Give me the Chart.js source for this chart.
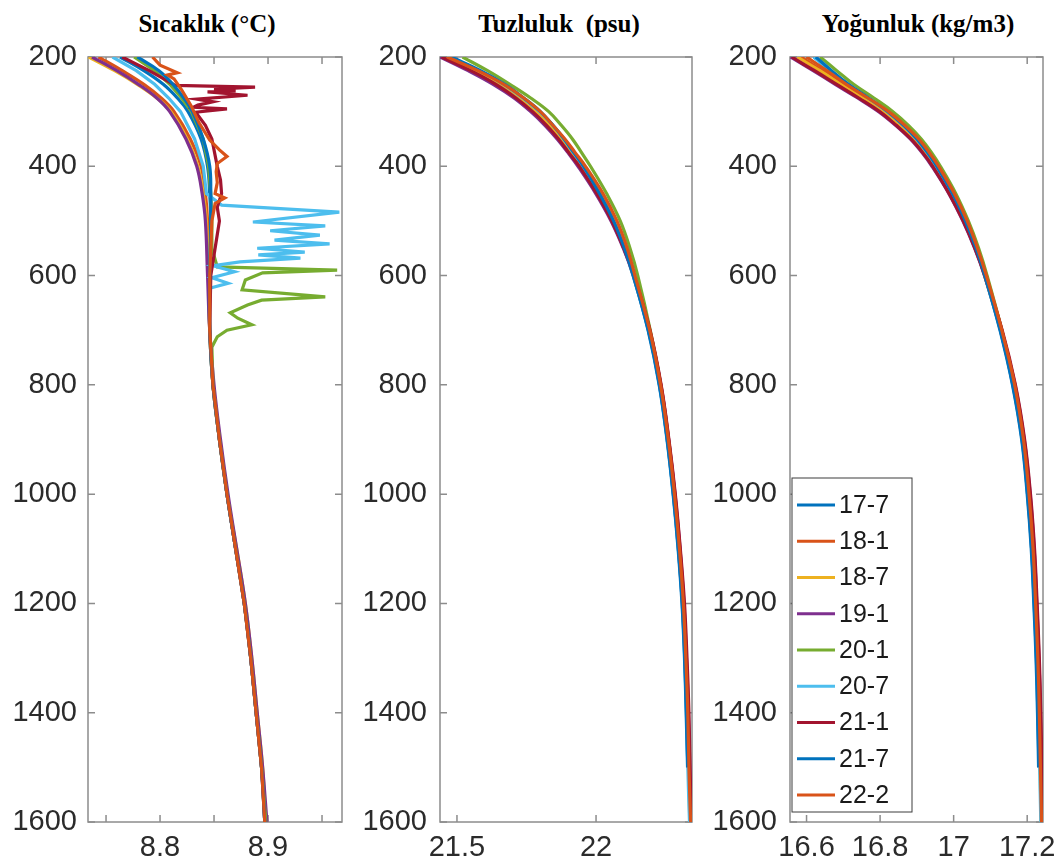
<!DOCTYPE html>
<html>
<head>
<meta charset="utf-8">
<script src="https://cdn.jsdelivr.net/npm/chart.js@4.4.0/dist/chart.umd.min.js"></script>
<style>
  body { margin: 0; background: #fff; width: 1061px; height: 866px; position: relative; overflow: hidden; }
  canvas { position: absolute; top: 0; }
  .title { position: absolute; top: 11px; width: 220px; font-family: "Liberation Serif", "Times New Roman", serif;
           font-weight: bold; font-size: 25px; line-height: 25px; color: #000; text-align: center; white-space: pre; }
</style>
</head>
<body>
<div class="title" style="left:97px">Sıcaklık (°C)</div>
<div class="title" style="left:449px">Tuzluluk  (psu)</div>
<div class="title" style="left:808px">Yoğunluk (kg/m3)</div>
<canvas id="c1" width="360" height="866" style="left:0"></canvas>
<canvas id="c2" width="345" height="866" style="left:360px"></canvas>
<canvas id="c3" width="356" height="866" style="left:705px"></canvas>
<script>
// seri adlari ve renkleri
const seriesNames = ['17-7', '18-1', '18-7', '19-1', '20-1', '20-7', '21-1', '21-7', '22-2'];
const seriesColors = ['#0072BD', '#D95319', '#EDB120', '#7E2F8E', '#77AC30', '#4DBEEE', '#A2142F', '#0072BD', '#D95319'];

// eksen tikleri
const depthTicks = [200, 400, 600, 800, 1000, 1200, 1400, 1600];
const tempTicks = [8.75, 8.8, 8.85, 8.9, 8.95];
const tempLabels = ['', '8.8', '', '8.9', ''];
const salTicks = [21.5, 22];
const salLabels = ['21.5', '22'];
const denTicks = [16.6, 16.8, 17, 17.2];
const denLabels = ['16.6', '16.8', '17', '17.2'];

// Sicaklik (derinlik m)
const depthT = [200, 225, 250, 275, 300, 350, 400, 450, 500, 600, 700, 800, 900, 1000, 1100, 1200, 1300, 1400, 1500, 1600];
const temp17_7 = [8.763, 8.785, 8.803, 8.816, 8.826, 8.838, 8.844, 8.846, 8.847, 8.846, 8.846, 8.849, 8.855, 8.862, 8.870, 8.878, 8.884, 8.889, 8.894, 8.897];
const temp18_1 = [8.743, 8.765, 8.785, 8.801, 8.813, 8.828, 8.838, 8.842, 8.844, 8.845, 8.846, 8.849, 8.855, 8.862, 8.870, 8.878, 8.884, 8.889, 8.894, 8.898];
const temp18_7 = [8.734, 8.758, 8.779, 8.797, 8.810, 8.825, 8.835, 8.840, 8.843, 8.845, 8.846, 8.849, 8.855, 8.862, 8.871, 8.879, 8.885, 8.890, 8.895, 8.898];
const temp19_1 = [8.737, 8.760, 8.780, 8.797, 8.809, 8.824, 8.834, 8.839, 8.842, 8.844, 8.846, 8.850, 8.856, 8.863, 8.871, 8.879, 8.885, 8.890, 8.895, 8.899];
const temp21_7 = [8.779, 8.799, 8.812, 8.822, 8.830, 8.840, 8.846, 8.847, 8.847, 8.846, 8.846, 8.849, 8.855, 8.862, 8.870, 8.878, 8.884, 8.889, 8.894, 8.897];

const depthT20_1 = [200, 225, 250, 275, 300, 350, 400, 450, 500, 550, 584, 590, 595, 608, 626, 639, 645, 654, 668, 678, 690, 700, 712, 731, 800, 900, 1000, 1100, 1200, 1300, 1400, 1500, 1600];
const temp20_1 = [8.776, 8.795, 8.809, 8.820, 8.829, 8.840, 8.845, 8.847, 8.848, 8.848, 8.853, 8.964, 8.895, 8.879, 8.876, 8.953, 8.894, 8.881, 8.865, 8.872, 8.885, 8.862, 8.853, 8.848, 8.849, 8.855, 8.862, 8.870, 8.878, 8.884, 8.889, 8.894, 8.898];

const depthT20_7 = [200, 225, 250, 275, 300, 350, 400, 450, 471, 484, 502, 509, 518, 526, 535, 542, 550, 557, 562, 568, 575, 582, 593, 604, 614, 623, 700, 800, 900, 1000, 1100, 1200, 1300, 1400, 1500, 1600];
const temp20_7 = [8.756, 8.778, 8.795, 8.808, 8.819, 8.832, 8.840, 8.843, 8.857, 8.966, 8.886, 8.953, 8.902, 8.948, 8.906, 8.957, 8.890, 8.934, 8.891, 8.930, 8.874, 8.849, 8.869, 8.848, 8.863, 8.846, 8.846, 8.849, 8.855, 8.862, 8.870, 8.878, 8.884, 8.889, 8.894, 8.897];

const depthT21_1 = [200, 225, 245, 252, 255, 259, 262, 264, 270, 277, 282, 288, 292, 295, 301, 325, 350, 400, 425, 450, 475, 500, 550, 600, 700, 800, 900, 1000, 1100, 1200, 1300, 1400, 1500, 1600];
const temp21_1 = [8.765, 8.790, 8.808, 8.814, 8.888, 8.850, 8.870, 8.844, 8.881, 8.834, 8.849, 8.835, 8.831, 8.862, 8.833, 8.842, 8.848, 8.853, 8.856, 8.857, 8.853, 8.855, 8.851, 8.847, 8.846, 8.849, 8.855, 8.862, 8.870, 8.878, 8.884, 8.889, 8.894, 8.897];

const depthT22_2 = [200, 215, 229, 233, 240, 260, 290, 320, 352, 370, 382, 395, 410, 430, 450, 458, 468, 500, 550, 600, 700, 800, 900, 1000, 1100, 1200, 1300, 1400, 1500, 1600];
const temp22_2 = [8.793, 8.800, 8.816, 8.807, 8.813, 8.820, 8.829, 8.836, 8.846, 8.855, 8.862, 8.853, 8.852, 8.853, 8.851, 8.860, 8.851, 8.848, 8.847, 8.846, 8.846, 8.849, 8.855, 8.862, 8.870, 8.878, 8.884, 8.889, 8.894, 8.897];

// Tuzluluk ve yogunluk ayni derinliklerde (17-7 ve 21-7 1500 m'de bitiyor)
const depthP = [200, 225, 250, 275, 300, 325, 350, 375, 400, 450, 500, 550, 600, 700, 800, 900, 1000, 1100, 1200, 1300, 1400, 1500, 1600];
const sal17_7 = [21.470, 21.575, 21.665, 21.737, 21.795, 21.843, 21.883, 21.918, 21.950, 22.009, 22.060, 22.100, 22.133, 22.188, 22.228, 22.256, 22.278, 22.296, 22.310, 22.319, 22.325, 22.330];
const sal18_1 = [21.455, 21.565, 21.655, 21.730, 21.790, 21.838, 21.880, 21.915, 21.948, 22.008, 22.060, 22.103, 22.137, 22.193, 22.233, 22.261, 22.283, 22.301, 22.315, 22.324, 22.331, 22.335, 22.340];
const sal18_7 = [21.450, 21.560, 21.652, 21.725, 21.785, 21.834, 21.875, 21.910, 21.943, 22.003, 22.056, 22.100, 22.135, 22.190, 22.230, 22.258, 22.280, 22.298, 22.312, 22.321, 22.328, 22.333, 22.337];
const sal19_1 = [21.440, 21.540, 21.630, 21.705, 21.765, 21.816, 21.860, 21.899, 21.935, 21.999, 22.054, 22.098, 22.135, 22.192, 22.233, 22.261, 22.284, 22.302, 22.316, 22.325, 22.332, 22.337, 22.342];
const sal20_1 = [21.520, 21.610, 21.690, 21.765, 21.830, 21.875, 21.915, 21.948, 21.980, 22.038, 22.087, 22.122, 22.150, 22.195, 22.232, 22.260, 22.282, 22.300, 22.314, 22.323, 22.330, 22.334, 22.339];
const sal20_7 = [21.475, 21.580, 21.667, 21.737, 21.797, 21.845, 21.884, 21.919, 21.953, 22.013, 22.064, 22.105, 22.138, 22.190, 22.228, 22.256, 22.278, 22.296, 22.311, 22.320, 22.326, 22.330, 22.336];
const sal21_1 = [21.445, 21.550, 21.640, 21.712, 21.772, 21.822, 21.865, 21.902, 21.940, 22.003, 22.057, 22.100, 22.137, 22.194, 22.234, 22.262, 22.285, 22.303, 22.318, 22.327, 22.334, 22.338, 22.343];
const sal21_7 = [21.480, 21.585, 21.672, 21.740, 21.800, 21.845, 21.885, 21.920, 21.955, 22.013, 22.063, 22.102, 22.134, 22.187, 22.227, 22.255, 22.277, 22.295, 22.309, 22.318, 22.324, 22.329];
const sal22_2 = [21.465, 21.575, 21.668, 21.740, 21.800, 21.845, 21.888, 21.925, 21.962, 22.025, 22.075, 22.112, 22.140, 22.193, 22.232, 22.260, 22.282, 22.300, 22.314, 22.323, 22.330, 22.334, 22.340];

const den17_7 = [16.620, 16.665, 16.710, 16.765, 16.818, 16.861, 16.897, 16.926, 16.950, 16.994, 17.030, 17.060, 17.084, 17.127, 17.161, 17.186, 17.201, 17.212, 17.219, 17.225, 17.229, 17.232];
const den18_1 = [16.585, 16.643, 16.697, 16.755, 16.810, 16.854, 16.892, 16.922, 16.948, 16.992, 17.029, 17.060, 17.086, 17.131, 17.166, 17.191, 17.206, 17.217, 17.224, 17.230, 17.234, 17.237, 17.240];
const den18_7 = [16.575, 16.636, 16.694, 16.752, 16.806, 16.850, 16.888, 16.918, 16.944, 16.989, 17.027, 17.058, 17.084, 17.128, 17.163, 17.188, 17.204, 17.215, 17.222, 17.228, 17.232, 17.235, 17.238];
const den19_1 = [16.557, 16.618, 16.678, 16.739, 16.796, 16.842, 16.882, 16.914, 16.941, 16.987, 17.025, 17.057, 17.084, 17.130, 17.167, 17.192, 17.208, 17.219, 17.226, 17.232, 17.236, 17.239, 17.242];
const den20_1 = [16.637, 16.682, 16.728, 16.783, 16.835, 16.877, 16.912, 16.940, 16.964, 17.006, 17.040, 17.068, 17.091, 17.131, 17.165, 17.190, 17.205, 17.216, 17.223, 17.229, 17.233, 17.236, 17.239];
const den20_7 = [16.620, 16.664, 16.712, 16.767, 16.820, 16.863, 16.899, 16.928, 16.953, 16.996, 17.032, 17.062, 17.086, 17.128, 17.162, 17.187, 17.203, 17.214, 17.221, 17.227, 17.231, 17.234, 17.237];
const den21_1 = [16.560, 16.622, 16.682, 16.742, 16.799, 16.844, 16.884, 16.916, 16.943, 16.988, 17.026, 17.058, 17.085, 17.132, 17.168, 17.193, 17.209, 17.220, 17.227, 17.233, 17.237, 17.240, 17.243];
const den21_7 = [16.625, 16.668, 16.714, 16.769, 16.821, 16.864, 16.900, 16.929, 16.954, 16.997, 17.032, 17.061, 17.085, 17.126, 17.160, 17.185, 17.200, 17.211, 17.218, 17.224, 17.228, 17.231];
const den22_2 = [16.600, 16.655, 16.708, 16.767, 16.823, 16.867, 16.905, 16.934, 16.959, 17.002, 17.037, 17.065, 17.089, 17.131, 17.166, 17.190, 17.205, 17.216, 17.223, 17.229, 17.233, 17.236, 17.239];

// sivri (spike) profiller duz cizilir, digerleri yumusak
const tempSeries = [
  [depthT, temp17_7, 0.4], [depthT, temp18_1, 0.4], [depthT, temp18_7, 0.4], [depthT, temp19_1, 0.4], [depthT20_1, temp20_1, 0],
  [depthT20_7, temp20_7, 0], [depthT21_1, temp21_1, 0], [depthT, temp21_7, 0.4], [depthT22_2, temp22_2, 0]
];
const salSeries = [sal17_7, sal18_1, sal18_7, sal19_1, sal20_1, sal20_7, sal21_1, sal21_7, sal22_2].map(v => [depthP, v, 0.4]);
const denSeries = [den17_7, den18_1, den18_7, den19_1, den20_1, den20_7, den21_1, den21_7, den22_2].map(v => [depthP, v, 0.4]);

const tickColor = '#2b2b2b';
const tickFont = { family: '"Liberation Sans", Arial, sans-serif', size: 29 };

// cerceve ve ice bakan tikler (MATLAB kutusu gibi)
const frameTicks = {
  id: 'frameTicks',
  beforeDatasetsDraw(chart) {
    const { ctx, chartArea: a, scales } = chart;
    const len = 7;
    ctx.save();
    ctx.strokeStyle = '#8c8c8c';
    ctx.lineWidth = 1.5;
    ctx.beginPath();
    scales.x.ticks.forEach(t => {
      const px = scales.x.getPixelForValue(t.value);
      ctx.moveTo(px, a.bottom); ctx.lineTo(px, a.bottom - len);
      ctx.moveTo(px, a.top); ctx.lineTo(px, a.top + len);
    });
    scales.y.ticks.forEach(t => {
      const py = scales.y.getPixelForValue(t.value);
      ctx.moveTo(a.left, py); ctx.lineTo(a.left + len, py);
      ctx.moveTo(a.right, py); ctx.lineTo(a.right - len, py);
    });
    ctx.stroke();
    ctx.strokeRect(a.left, a.top, a.right - a.left, a.bottom - a.top);
    ctx.restore();
  }
};

// yogunluk panelindeki kutulu lejant
const boxLegend = {
  id: 'boxLegend',
  afterDatasetsDraw(chart) {
    const { ctx, chartArea: a } = chart;
    const x0 = a.left + 2, y0 = 478, w = 120, h = 334, row = 36.25;
    ctx.save();
    ctx.fillStyle = '#fff';
    ctx.fillRect(x0, y0, w, h);
    ctx.strokeStyle = '#3c3c3c';
    ctx.lineWidth = 1;
    ctx.strokeRect(x0, y0, w, h);
    ctx.font = '25px "Liberation Sans", Arial, sans-serif';
    ctx.textBaseline = 'middle';
    chart.data.datasets.forEach((ds, i) => {
      const yy = y0 + 27 + i * row;
      ctx.strokeStyle = ds.borderColor;
      ctx.lineWidth = 3;
      ctx.beginPath();
      ctx.moveTo(x0 + 5, yy);
      ctx.lineTo(x0 + 43, yy);
      ctx.stroke();
      ctx.fillStyle = '#1a1a1a';
      ctx.fillText(ds.label, x0 + 47, yy + 1);
    });
    ctx.restore();
  }
};

function makePanel(id, series, xMin, xMax, xTicks, xLabels, yWidth, yPad, padRight, withLegend) {
  const datasets = series.map(([depths, vals, tension], i) => ({
    label: seriesNames[i],
    data: vals.map((v, j) => ({ x: v, y: depths[j] })),
    borderColor: seriesColors[i],
    backgroundColor: seriesColors[i],
    borderWidth: 3.2,
    showLine: true,
    pointRadius: 0,
    tension: tension,
    order: -i
  }));
  return new Chart(document.getElementById(id), {
    type: 'scatter',
    data: { datasets },
    options: {
      responsive: false,
      animation: false,
      events: [],
      layout: { padding: { top: 57, right: padRight, bottom: 0, left: 0 } },
      plugins: { legend: { display: false }, tooltip: { enabled: false } },
      scales: {
        x: {
          type: 'linear', min: xMin, max: xMax,
          grid: { display: false, drawTicks: false },
          border: { display: false },
          ticks: { autoSkip: false, maxRotation: 0, padding: 9, color: tickColor, font: tickFont,
                   callback: (v, i) => xLabels[i] },
          afterBuildTicks: s => { s.ticks = xTicks.map(v => ({ value: v })); },
          afterFit: s => { s.height = 44; s.paddingLeft = 0; s.paddingRight = 0; }
        },
        y: {
          type: 'linear', reverse: true, min: 200, max: 1600,
          grid: { display: false, drawTicks: false },
          border: { display: false },
          ticks: { padding: yPad, color: tickColor, font: tickFont, callback: v => String(v) },
          afterBuildTicks: s => { s.ticks = depthTicks.map(v => ({ value: v })); },
          afterFit: s => { s.width = yWidth; s.paddingTop = 0; s.paddingBottom = 0; }
        }
      }
    },
    plugins: withLegend ? [frameTicks, boxLegend] : [frameTicks]
  });
}

makePanel('c1', tempSeries, 8.7333, 8.9685, tempTicks, tempLabels, 88, 11, 18, false);
makePanel('c2', salSeries, 21.439, 22.345, salTicks, salLabels, 80, 13, 13, false);
makePanel('c3', denSeries, 16.555, 17.243, denTicks, denLabels, 85, 13, 18, true);
</script>
</body>
</html>
